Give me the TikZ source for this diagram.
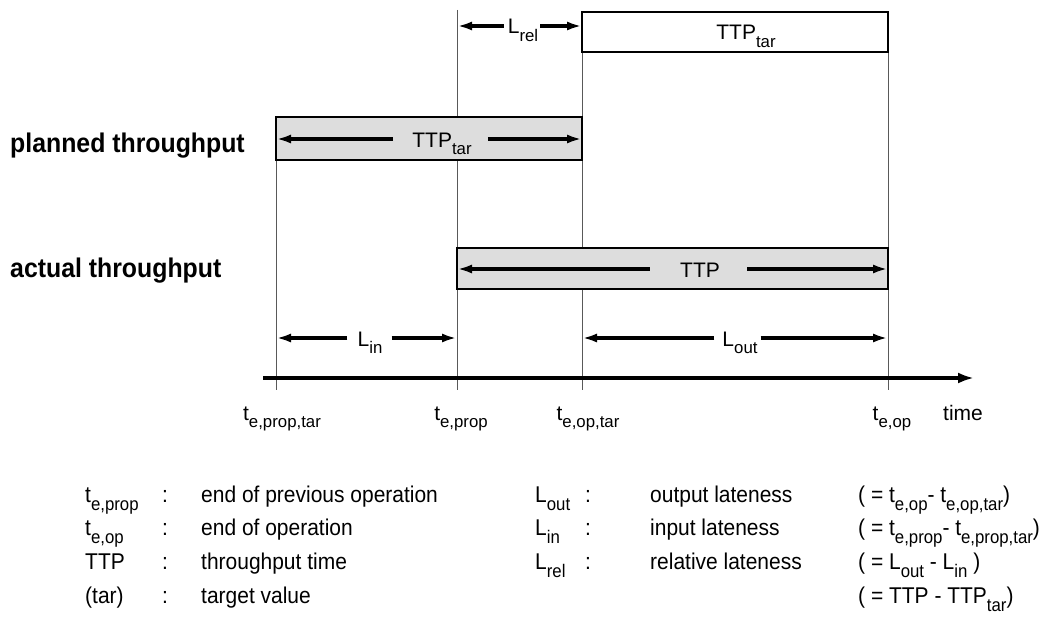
\documentclass[tikz,border=0pt]{standalone}
\usepackage{fontspec}
\setmainfont{Liberation Sans}
\newfontfamily\narrowfont{Liberation Sans}[FakeStretch=0.92]
\usepackage{xcolor}
\usetikzlibrary{arrows.meta}
\definecolor{barfill}{RGB}{221,221,221}
\newcommand{\idx}[1]{\raisebox{-0.36em}{\scalebox{0.8}{#1}}}

\begin{document}
\begin{tikzpicture}[x=1pt, y=-1pt,
    guide/.style={draw=black!65, line width=0.9pt},
    bar/.style={draw=black, line width=2.8pt, fill=barfill},
    dim/.style={line width=3.1pt, -{Latex[length=15pt,width=9pt]}},
    lbl/.style={inner sep=0pt, text height=16pt, text depth=0pt, font=\fontsize{21}{25}\selectfont},
    txt/.style={inner sep=0pt, anchor=base west, font=\narrowfont\fontsize{22.8}{27}\selectfont},
    head/.style={inner sep=0pt, anchor=base west, font=\narrowfont\fontsize{27}{32}\selectfont\bfseries}]
  \useasboundingbox (0,0) rectangle (1040,626);

  % vertical guides and time points
  \foreach \n/\x/\y in {ttar/276/117, tprop/457/10, toptar/582/12, top/888/12}{
    \draw[guide] (\x,\y) -- (\x,390);
    \coordinate (\n) at (\x,378);
  }

  % bars
  \draw[bar, fill=white] (582,12) rectangle (888,52);
  \draw[bar] (276,117) rectangle (582,160);
  \draw[bar] (457,248) rectangle (888,289);

  \node[head] (plan) at (10,152) {planned throughput};
  \node[head] (act) at (10,277) {actual throughput};

  % durations
  \node[lbl] (ttptop) at (746,32) {TTP\idx{tar}};
  \node[lbl] (ttpplan) at (442,139) {TTP\idx{tar}};
  \node[lbl] (ttpact) at (700,269) {TTP};
  \node[lbl] (lrel) at (523,26) {L\idx{rel}};
  \node[lbl] (lin) at (370,338) {L\idx{in}};
  \node[lbl] (lout) at (740,338) {L\idx{out}};

  \draw[dim, shorten <=4pt] (lrel.west) -- (lrel.west -| tprop);
  \draw[dim, shorten <=2pt] (lrel.east) -- (lrel.east -| toptar);
  \draw[dim, shorten <=19pt] (ttpplan.west) -- (ttpplan.west -| ttar);
  \draw[dim, shorten <=16pt] (ttpplan.east) -- (ttpplan.east -| toptar);
  \draw[dim, shorten <=30pt] (ttpact.west) -- (ttpact.west -| tprop);
  \draw[dim, shorten <=27pt] (ttpact.east) -- (ttpact.east -| top);
  \draw[dim, shorten <=10pt] (lin.west) -- (lin.west -| ttar);
  \draw[dim, shorten <=9pt] (lin.east) -- (lin.east -| tprop);
  \draw[dim, shorten <=8pt] (lout.west) -- (lout.west -| toptar);
  \draw[dim, shorten <=3pt] (lout.east) -- (lout.east -| top);

  % time axis
  \coordinate (ax0) at (263,378);
  \coordinate (ax1) at (974,378);
  \draw[line width=3.4pt, -{Latex[length=16pt,width=11pt]}] (ax0) -- (ax1);
  \foreach \x/\lab in {282/{t\idx{e,prop,tar}}, 461/{t\idx{e,prop}}, 588/{t\idx{e,op,tar}}, 892/{t\idx{e,op}}, 963/time}
    \node[lbl, anchor=base] (lab\x) at (\x,420) {\lab};

  % legend
  \foreach \y/\sym/\desc in {502/{t\idx{e,prop}}/{end of previous operation}, 535/{t\idx{e,op}}/{end of operation},
      569/{TTP}/{throughput time}, 603/{(tar)}/{target value}}{
    \node[txt] (ls\y) at (85,\y) {\sym};
    \node[txt] (lc\y) at (162,\y) {:};
    \node[txt] (ld\y) at (201,\y) {\desc};
  }
  \foreach \y/\sym/\desc/\eq in {502/{L\idx{out}}/{output lateness}/{( = t\idx{e,op}- t\idx{e,op,tar})},
      535/{L\idx{in}}/{input lateness}/{( = t\idx{e,prop}- t\idx{e,prop,tar})},
      569/{L\idx{rel}}/{relative lateness}/{( = L\idx{out} - L\idx{in} )}}{
    \node[txt] (rs\y) at (535,\y) {\sym};
    \node[txt] (rc\y) at (585,\y) {:};
    \node[txt] (rd\y) at (650,\y) {\desc};
    \node[txt] (re\y) at (858,\y) {\eq};
  }
  \node[txt] (re603) at (858,603) {( = TTP - TTP\idx{tar})};
\end{tikzpicture}
\end{document}
